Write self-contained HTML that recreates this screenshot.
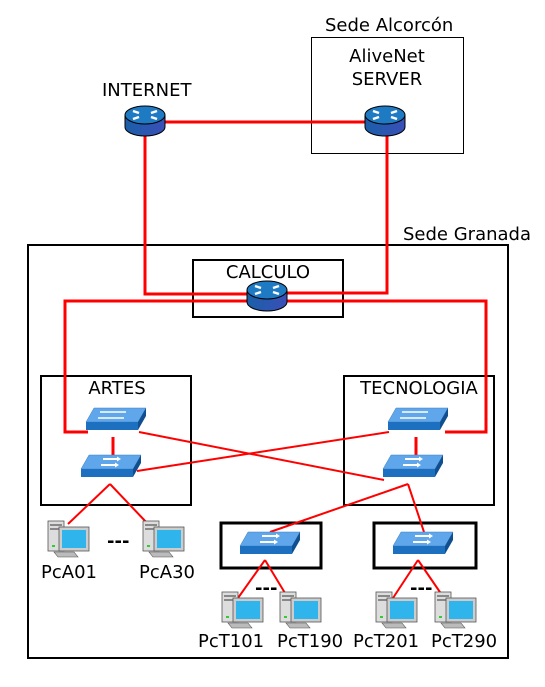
<!DOCTYPE html>
<html><head><meta charset="utf-8"><style>
html,body{margin:0;padding:0;background:#fff;width:545px;height:687px;overflow:hidden}
svg{display:block}
text{font-family:"DejaVu Sans","Liberation Sans",sans-serif;font-size:18px;fill:#000}
</style></head><body>
<svg width="545" height="687" viewBox="0 0 545 687" xmlns="http://www.w3.org/2000/svg">
<defs>
<linearGradient id="rg" x1="0" x2="1"><stop offset="0" stop-color="#1a5fa8"/><stop offset="1" stop-color="#3a4fb8"/></linearGradient>
<g id="router">
<path d="M-20,-5 L-20,7 A20,9 0 0 0 20,7 L20,-5 Z" fill="url(#rg)" stroke="#000" stroke-width="1"/>
<ellipse cx="0" cy="-5" rx="20" ry="9" fill="#1f7ac4" stroke="#000" stroke-width="1"/>
<path d="M-12,-9 l6,2 M-12,-1 l6,-2 M12,-9 l-6,2 M12,-1 l-6,-2" stroke="#fff" stroke-width="2.5"/>
</g>
<g id="switch">
<path d="M8,0 L60,0 L52,14 L0,14 Z" fill="#5fa6ea" stroke="#3a7fc4" stroke-width="0.5"/>
<path d="M0,14 L52,14 L52,22 L0,22 Z" fill="#1d6fc0"/>
<path d="M52,14 L60,0 L60,8 L52,22 Z" fill="#0f4f90"/>
<path d="M22,4 h16 M20,10 h16" stroke="#fff" stroke-width="2"/>
<path d="M36,1.5 l4,2.5 l-4,2.5 M34,7.5 l4,2.5 l-4,2.5" fill="#fff"/>
</g>
<g id="l3">
<path d="M8,0 L60,0 L52,14 L0,14 Z" fill="#5fa6ea" stroke="#3a7fc4" stroke-width="0.5"/>
<path d="M0,14 L52,14 L52,22 L0,22 Z" fill="#1d6fc0"/>
<path d="M52,14 L60,0 L60,8 L52,22 Z" fill="#0f4f90"/>
<path d="M14,4 h12 M26,4 h14 M12,10 h14 M24,10 h14" stroke="#fff" stroke-width="1.6"/>
</g>
<g id="pc">
<rect x="0" y="2" width="16" height="30" fill="#ddd" stroke="#555" stroke-width="0.8"/>
<rect x="2" y="5" width="12" height="2" fill="#888"/>
<rect x="2" y="9" width="12" height="2" fill="#888"/>
<rect x="11" y="8" width="30" height="24" fill="#ccc" stroke="#555" stroke-width="0.8"/>
<rect x="14" y="11" width="24" height="18" fill="#2fb4ec"/>
<path d="M6,33 L26,33 L30,38 L10,38 Z" fill="#bbb" stroke="#555" stroke-width="0.6"/>
<rect x="4" y="26" width="3" height="2" fill="#3c3"/>
</g>
</defs>

<rect x="311.5" y="37.5" width="152" height="116" fill="none" stroke="#000" stroke-width="1"/>
<rect x="28" y="245" width="480" height="413" fill="none" stroke="#000" stroke-width="2"/>
<rect x="193" y="260" width="150" height="57" fill="none" stroke="#000" stroke-width="2"/>
<rect x="41" y="376" width="150" height="129" fill="none" stroke="#000" stroke-width="2"/>
<rect x="344" y="376" width="150" height="129" fill="none" stroke="#000" stroke-width="2"/>
<rect x="221" y="523" width="100" height="45" fill="none" stroke="#000" stroke-width="3"/>
<rect x="374" y="523" width="102" height="45" fill="none" stroke="#000" stroke-width="3"/>

<text x="325" y="31" font-size="17">Sede Alcorcón</text>
<text x="387" y="62" text-anchor="middle">AliveNet</text>
<text x="387" y="85" text-anchor="middle">SERVER</text>
<text x="102" y="96">INTERNET</text>
<text x="403" y="240" font-size="17">Sede Granada</text>
<text x="268" y="278" text-anchor="middle">CALCULO</text>
<text x="117" y="394" text-anchor="middle">ARTES</text>
<text x="419" y="394" text-anchor="middle">TECNOLOGIA</text>

<g stroke="#f00" stroke-width="3" fill="none">
<path d="M165,122 H365"/>
<path d="M145,133 V294 H250"/>
<path d="M387,133 V293 H285"/>
<path d="M250,301 H65 V432 H88"/>
<path d="M285,301 H486 V432 H445"/>
<path d="M113,437 V456"/>
<path d="M416,437 V456"/>
</g>
<g stroke="#f00" stroke-width="2" fill="none">
<path d="M139,432 L384,480"/>
<path d="M137,471 L389,432"/>
<path d="M110,484 L68,524 M110,484 L148,524"/>
<path d="M408,484 L270,532 M408,484 L424,532"/>
<path d="M265,560 L238,598 M265,560 L288,598"/>
<path d="M418,560 L393,598 M418,560 L444,598"/>
</g>

<use href="#router" x="145" y="120"/>
<use href="#router" x="385" y="120"/>
<use href="#router" x="267" y="295"/>

<use href="#l3" x="86" y="408"/>
<use href="#switch" x="81" y="455"/>
<use href="#l3" x="388" y="408"/>
<use href="#switch" x="383" y="455"/>
<use href="#switch" x="240" y="532"/>
<use href="#switch" x="393" y="532"/>

<use href="#pc" x="48" y="519"/>
<use href="#pc" x="143" y="519"/>
<use href="#pc" x="222" y="590"/>
<use href="#pc" x="280" y="590"/>
<use href="#pc" x="376" y="590"/>
<use href="#pc" x="435" y="590"/>

<text x="107" y="547" font-weight="bold" font-size="16">---</text>
<text x="255" y="594" font-weight="bold" font-size="16">---</text>
<text x="410" y="594" font-weight="bold" font-size="16">---</text>

<text x="41" y="578">PcA01</text>
<text x="139" y="578">PcA30</text>
<text x="198" y="647">PcT101</text>
<text x="277" y="647">PcT190</text>
<text x="353" y="647">PcT201</text>
<text x="431" y="647">PcT290</text>
</svg>
</body></html>
